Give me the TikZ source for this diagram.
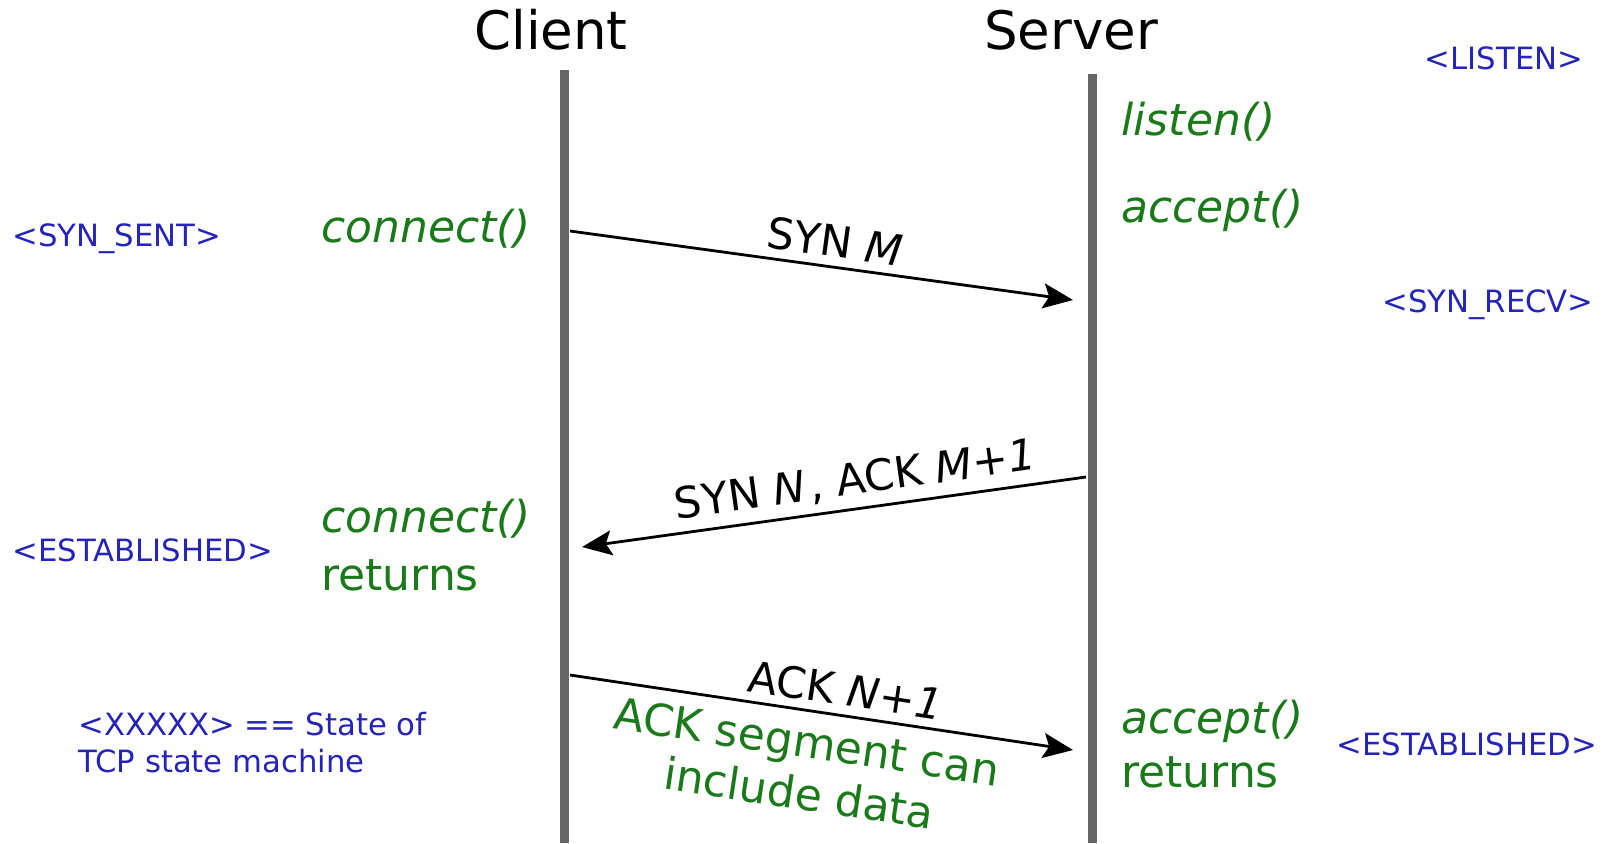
\documentclass[tikz,border=0pt]{standalone}
\usepackage{fontspec}
\setmainfont{DejaVu Sans}
\usetikzlibrary{arrows.meta}
\definecolor{callgreen}{HTML}{1A7A1A}
\definecolor{stateblue}{HTML}{2424B8}
\definecolor{lifegray}{HTML}{666666}

\begin{document}
\begin{tikzpicture}[x=0.5pt,y=-0.5pt,
  head/.style={font=\fontsize{26.5}{30}\selectfont, anchor=base, inner sep=0pt},
  call/.style={font=\fontsize{22}{28}\selectfont\itshape, text=callgreen, anchor=base west, inner sep=0pt},
  ret/.style={font=\fontsize{22}{28}\selectfont, text=callgreen, anchor=base west, inner sep=0pt},
  state/.style={font=\fontsize{15.35}{18.5}\selectfont, text=stateblue, inner sep=0pt},
  lifeline/.style={line width=4.5pt, draw=lifegray},
  msg/.style={line width=1.4pt, -{Stealth[length=15pt,width=12.5pt,inset=3pt]}},
  msglabel/.style={font=\fontsize{21.5}{24}\selectfont, inner sep=2pt, sloped},
  note/.style={font=\fontsize{22}{26}\selectfont, text=callgreen, align=center, inner sep=2pt, sloped},
]

\useasboundingbox (0,0) rectangle (1610,843);

% column headings
\node[head] (client) at (551,49) {Client};
\node[head] (server) at (1071,49) {Server};

% lifelines
\coordinate (clientTop) at (564,70);
\coordinate (clientEnd) at (564,843);
\coordinate (serverTop) at (1092,74);
\coordinate (serverEnd) at (1092,843);
\draw[lifeline] (clientTop) -- (clientEnd);
\draw[lifeline] (serverTop) -- (serverEnd);

% message end points on the lifelines
\coordinate (synFrom) at (570,231);
\coordinate (synTo) at (1073,300);
\coordinate (synackFrom) at (1086,477);
\coordinate (synackTo) at (582,547);
\coordinate (ackFrom) at (570,675);
\coordinate (ackTo) at (1073,750);

% messages
\draw[msg] (synFrom) -- node[msglabel, pos=0.52, above=2pt] (synLbl) {SYN \textit{M}} (synTo);
\draw[msg] (synackFrom) -- node[msglabel, pos=0.45, above=2pt] (synackLbl) {SYN \textit{N}\kern2pt, ACK \textit{M+1}} (synackTo);
\draw[msg] (ackFrom) -- node[msglabel, pos=0.54, above=2pt] (ackLbl) {ACK \textit{N+1}}
  node[note, pos=0.48, below=4.5pt] (dataNote) {ACK segment can\\include data} (ackTo);

% socket calls
\node[call] (listenCall) at (1121,135) {listen()};
\node[call] (acceptCall) at (1121,222) {accept()};
\node[call] (connectCall) at (321,242) {connect()};
\node[call] (connectRet) at (321,532) {connect()};
\node[ret] (connectRetB) at (321,590) {returns};
\node[call] (acceptRet) at (1121,733) {accept()};
\node[ret] (acceptRetB) at (1121,787) {returns};

% TCP states
\node[state, anchor=base] (stListen) at (1504,69.5) {<LISTEN>};
\node[state, anchor=base west] (stSynSent) at (12,246) {<SYN\_SENT>};
\node[state, anchor=base] (stSynRecv) at (1488,312) {<SYN\_RECV>};
\node[state, anchor=base west] (stEstC) at (12,561) {<ESTABLISHED>};
\node[state, anchor=base] (stEstS) at (1467,755) {<ESTABLISHED>};
\node[state, anchor=base west, align=left] (legend) at (78,772) {<XXXXX> == State of\\TCP state machine};

\end{tikzpicture}
\end{document}
